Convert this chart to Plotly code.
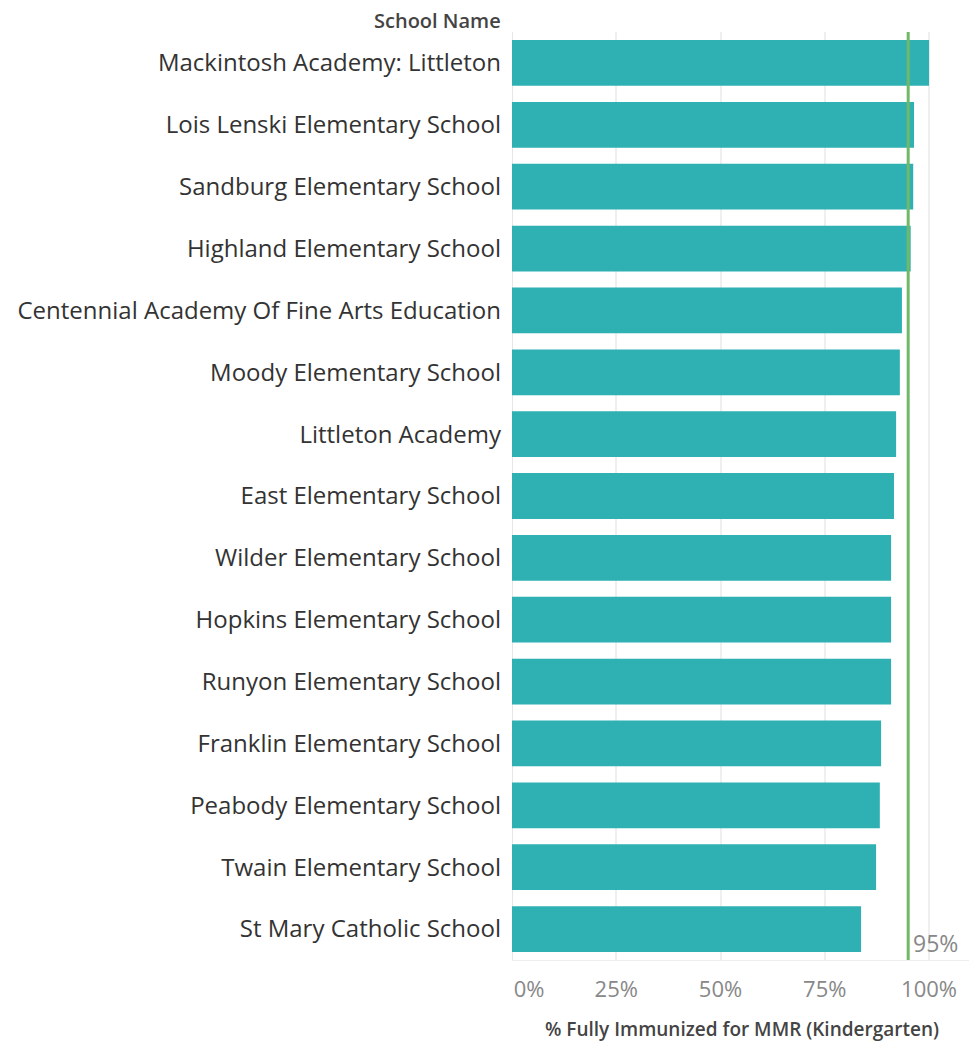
import plotly.graph_objects as go

schools = [
    "Mackintosh Academy: Littleton",
    "Lois Lenski Elementary School",
    "Sandburg Elementary School",
    "Highland Elementary School",
    "Centennial Academy Of Fine Arts Education",
    "Moody Elementary School",
    "Littleton Academy",
    "East Elementary School",
    "Wilder Elementary School",
    "Hopkins Elementary School",
    "Runyon Elementary School",
    "Franklin Elementary School",
    "Peabody Elementary School",
    "Twain Elementary School",
    "St Mary Catholic School",
]
pct_mmr = [1.000, 0.964, 0.962, 0.956, 0.935, 0.930, 0.921, 0.916,
           0.909, 0.909, 0.909, 0.885, 0.882, 0.873, 0.837]
target = 0.95
tick_vals = [0, 0.25, 0.5, 0.75, 1.0]
tick_text = ["&nbsp;&nbsp;&nbsp;&nbsp;&nbsp;&nbsp;0%", "25%", "50%", "75%", "100%"]

FONT = "Open Sans"

fig = go.Figure(go.Bar(
    x=pct_mmr, y=schools, orientation="h",
    marker=dict(color="#2fb1b3", line=dict(width=0)),
    width=0.74, hoverinfo="x+y",
))

fig.add_shape(type="line", xref="x", yref="paper", x0=target, x1=target, y0=0, y1=1,
              line=dict(color="#6fb968", width=3))
fig.add_annotation(xref="x", yref="paper", x=target, y=0, xanchor="left", yanchor="bottom",
                   text="95%", showarrow=False, xshift=3, yshift=-1,
                   font=dict(family=FONT, size=23, color="#888888"))
fig.add_annotation(xref="paper", yref="paper", x=0, y=1, xanchor="right", yanchor="bottom",
                   text="School Name", showarrow=False, xshift=-9, yshift=-4,
                   font=dict(family=FONT, size=20, color="#444444", weight=600))

fig.update_layout(
    width=969, height=1034,
    margin=dict(l=504, r=5, t=24, b=82),
    paper_bgcolor="white", plot_bgcolor="white",
    showlegend=False, bargap=0.26,
    font=dict(family=FONT),
    xaxis=dict(range=[0, 1.103], tickvals=tick_vals, ticktext=tick_text,
               showgrid=True, gridcolor="#efefef", gridwidth=2,
               zeroline=True, zerolinecolor="#e6e6e6", zerolinewidth=1,
               showline=True, linecolor="#eeeeee", linewidth=1,
               tickfont=dict(family=FONT, size=22, color="#888888"),
               ticklabelstandoff=10,
               title=dict(text="% Fully Immunized for MMR (Kindergarten)",
                          font=dict(family=FONT, size=19, color="#444444", weight=600),
                          standoff=22),
               automargin=False, fixedrange=True),
    yaxis=dict(autorange="reversed", showgrid=False, zeroline=False, ticks="",
               tickfont=dict(family=FONT, size=24, color="#333333"),
               ticklabelstandoff=10, automargin=False, fixedrange=True),
)

fig.write_html("out.html")
